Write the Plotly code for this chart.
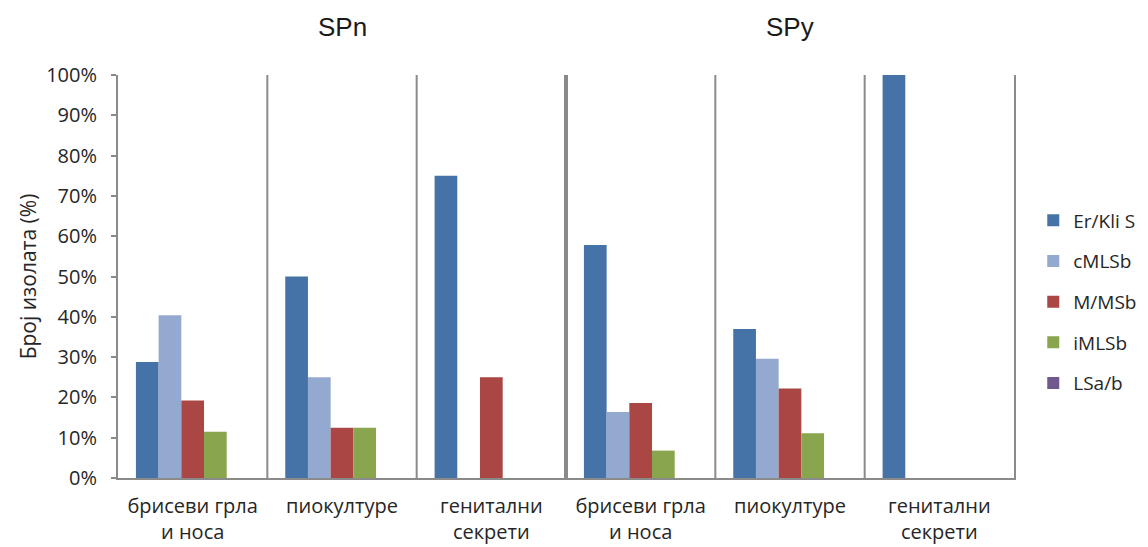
import plotly.graph_objects as go

# ---- data ----
categories = ["брисеви грла<br>и носа", "пиокултуре", "генитални<br>секрети",
              "брисеви грла<br>и носа", "пиокултуре", "генитални<br>секрети"]
group_titles = ["SPn", "SPy"]
series_names = ["Er/Kli S", "cMLSb", "M/MSb", "iMLSb", "LSa/b"]
er_kli_s = [28.8, 50.0, 75.0, 57.8, 37.0, 100.0]
cmlsb = [40.4, 25.0, 0.0, 16.4, 29.6, 0.0]
m_msb = [19.2, 12.5, 25.0, 18.6, 22.2, 0.0]
imlsb = [11.5, 12.5, 0.0, 6.8, 11.1, 0.0]
lsa_b = [0.0, 0.0, 0.0, 0.0, 0.0, 0.0]
y_ticks = [0, 10, 20, 30, 40, 50, 60, 70, 80, 90, 100]
y_tick_labels = [f"{v}%" for v in y_ticks]

series_values = [er_kli_s, cmlsb, m_msb, imlsb, lsa_b]
colors = ["#4572A7", "#93A9CF", "#AA4643", "#89A54E", "#71588F"]

xpos = list(range(len(categories)))

fig = go.Figure()
for i, (name, vals) in enumerate(zip(series_names, series_values)):
    fig.add_trace(go.Bar(
        x=xpos, y=vals, name=name, legendgroup=name,
        marker=dict(color=colors[i], line=dict(width=0)),
    ))

font_main = "Open Sans, Liberation Sans, sans-serif"
axis_col = "#8a8a8a"
txt_col = "#262626"

shapes = []
for b in range(len(categories) - 1):
    mid = b + 0.5
    shapes.append(dict(type="line", xref="x", yref="paper", x0=mid, x1=mid, y0=0, y1=1,
                       line=dict(color=axis_col, width=4 if b == 2 else 2), layer="below"))

title_font = dict(family="Liberation Sans, Arial, sans-serif", size=26, color="#1a1a1a")
annotations = [
    dict(text=group_titles[0], x=1, xref="x", y=1.119, yref="paper", yanchor="middle",
         showarrow=False, font=title_font),
    dict(text=group_titles[1], x=4, xref="x", y=1.119, yref="paper", yanchor="middle",
         showarrow=False, font=title_font),
]

fig.update_layout(
    width=1148, height=547,
    margin=dict(l=118, r=134, t=75, b=69, autoexpand=False),
    paper_bgcolor="white", plot_bgcolor="white",
    barmode="group", bargap=0.24, bargroupgap=0,
    font=dict(family=font_main, size=20, color=txt_col),
    shapes=shapes, annotations=annotations,
    legend=dict(x=1.0215, xanchor="left", y=0.437, yanchor="middle",
                font=dict(family=font_main, size=19, color=txt_col),
                tracegroupgap=13, itemclick=False),
    xaxis=dict(range=[-0.5, 5.5], tickvals=xpos, ticktext=categories,
               showline=True, linecolor=axis_col, linewidth=2, ticks="",
               showgrid=False, zeroline=False, mirror=False,
               ticklabelstandoff=9,
               tickfont=dict(family=font_main, size=20, color=txt_col)),
    yaxis=dict(range=[0, 100], tickvals=y_ticks, ticktext=y_tick_labels,
               showline=True, linecolor=axis_col, linewidth=2, mirror=True,
               ticks="outside", ticklen=5, tickcolor=axis_col, tickwidth=2,
               showgrid=False, zeroline=False,
               ticklabelstandoff=10,
               tickfont=dict(family=font_main, size=20, color=txt_col),
               title=dict(text="Број изолата (%)", standoff=4,
                          font=dict(family=font_main, size=21, color=txt_col))),
)

fig.write_html("out.html", config={"displayModeBar": False},
               post_script="document.body.style.margin='0';")
